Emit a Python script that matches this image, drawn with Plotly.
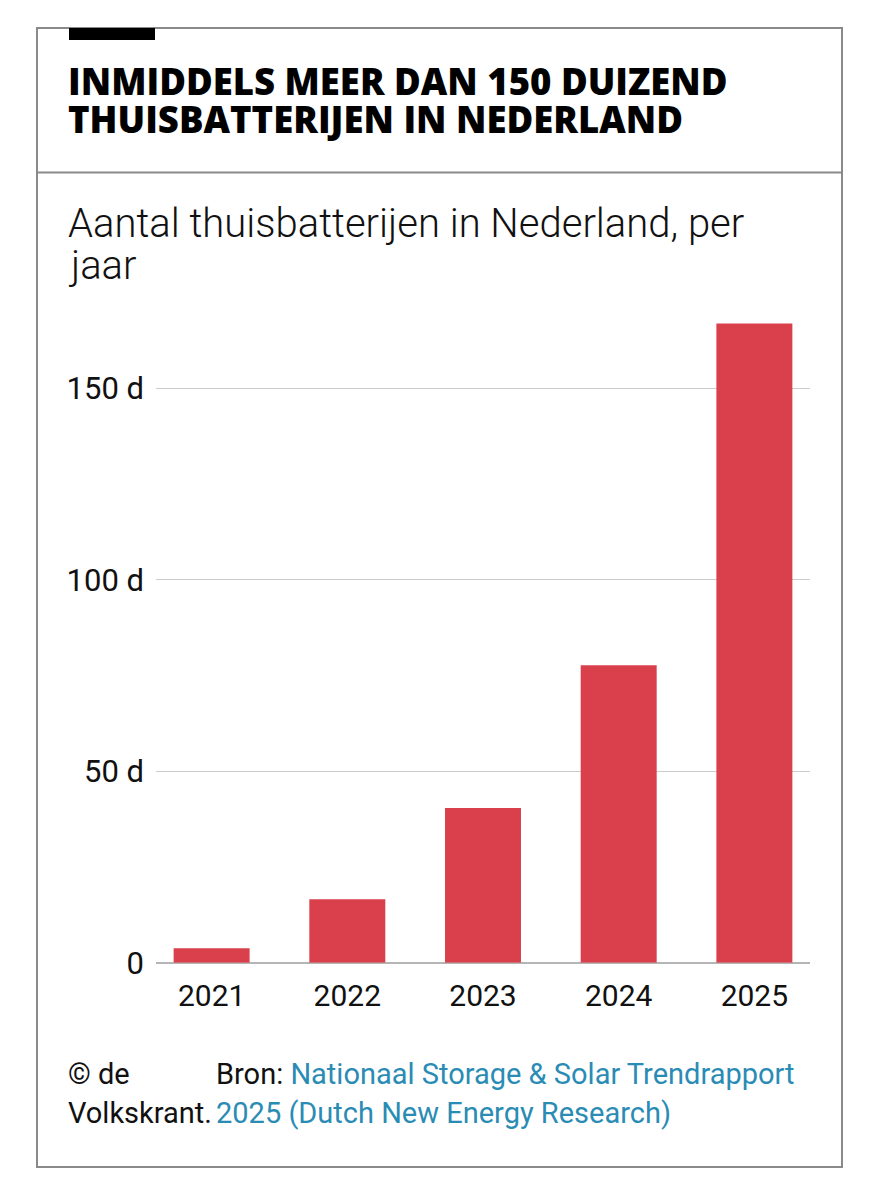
import plotly.graph_objects as go

# data (thousands of home batteries)
years = ["2021", "2022", "2023", "2024", "2025"]
batteries = [3.8, 16.6, 40.4, 77.7, 167.0]
tick_vals = [0, 50, 100, 150]
tick_text = ["0", "50 d", "100 d", "150 d"]

title_lines = ["INMIDDELS MEER DAN 150 DUIZEND", "THUISBATTERIJEN IN NEDERLAND"]
subtitle_lines = ["Aantal thuisbatterijen in Nederland, per", "jaar"]
credit_lines = ["© de", "Volkskrant."]
source_lines = ["Bron: <span style='color:#2a8cb4'>Nationaal Storage &amp; Solar Trendrapport</span>",
                "<span style='color:#2a8cb4'>2025 (Dutch New Energy Research)</span>"]

W, H = 879, 1200
H_EFF = 1181  # height the page actually ends up drawn at
BAR_RED = "#d9404c"
TEXT = "#111111"
FONT = "Roboto"
TITLE_FONT = "Open Sans"


def fx(x):
    return x / W


def fy(y):
    return 1 - y / H_EFF


fig = go.Figure(go.Bar(x=years, y=batteries, marker=dict(color=BAR_RED, line=dict(width=0)),
                       hoverinfo="x+y"))

fig.update_layout(
    width=W, height=H,
    margin=dict(l=0, r=0, t=0, b=0),
    paper_bgcolor="white", plot_bgcolor="white",
    showlegend=False,
    bargap=0.44,
    font=dict(family=FONT, color=TEXT),
    xaxis=dict(domain=[fx(156), fx(810)], range=[-0.41, 4.41],
               showgrid=False, showline=False, zeroline=False, ticks="",
               tickfont=dict(size=30, family=FONT, color=TEXT), ticklabelstandoff=12),
    yaxis=dict(domain=[fy(962.7), fy(292.8)], range=[0, 175],
               tickvals=tick_vals, ticktext=tick_text,
               showgrid=True, gridcolor="#cccccc", gridwidth=1,
               zeroline=True, zerolinecolor="#b5b5b5", zerolinewidth=2,
               showline=False, ticks="", ticklabelstandoff=11,
               tickfont=dict(size=31, family=FONT, color=TEXT)),
)

# frame, divider and black tab
fig.add_shape(type="rect", xref="paper", yref="paper",
              x0=fx(37), x1=fx(842), y0=fy(28), y1=fy(1167),
              line=dict(color="#8a8a8a", width=2), fillcolor="rgba(0,0,0,0)")
fig.add_shape(type="line", xref="paper", yref="paper",
              x0=fx(37), x1=fx(842), y0=fy(172.5), y1=fy(172.5),
              line=dict(color="#8a8a8a", width=2))
fig.add_shape(type="rect", xref="paper", yref="paper",
              x0=fx(69), x1=fx(155), y0=fy(28), y1=fy(40),
              line=dict(width=0), fillcolor="#000000")


def add_line(text, x, y, size, weight=400, color=TEXT, family=FONT):
    fig.add_annotation(xref="paper", yref="paper", x=fx(x), y=fy(y),
                       xanchor="left", yanchor="middle", text=text, showarrow=False,
                       align="left", borderpad=0,
                       font=dict(size=size, family=family, color=color, weight=weight))


for i, line in enumerate(title_lines):
    add_line(line, 67, 81 + i * 38.4, 36.5, weight=800, color="#000000", family=TITLE_FONT)
for i, line in enumerate(subtitle_lines):
    add_line(line, 67, 223 + i * 42.7, 40, weight=300)
for i, line in enumerate(credit_lines):
    add_line(line, 67, 1074 + i * 39.3, 29)
for i, line in enumerate(source_lines):
    add_line(line, 215, 1074 + i * 39.3, 29)

fig.write_html("out.html", config={"displayModeBar": False},
               post_script="document.body.style.margin='0';")
